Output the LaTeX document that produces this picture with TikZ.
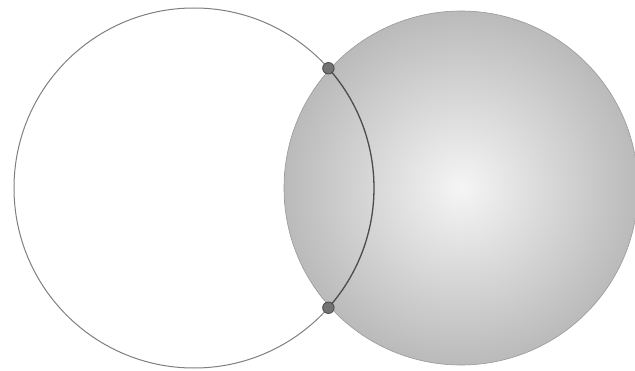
\documentclass[tikz,border=0pt]{standalone}
\definecolor{leftline}{gray}{0.50}
\definecolor{arcline}{gray}{0.30}
\definecolor{rightline}{gray}{0.60}
\definecolor{ballin}{gray}{0.96}
\definecolor{ballout}{gray}{0.73}
\definecolor{dotfill}{gray}{0.45}
\definecolor{dotline}{gray}{0.28}
\tikzset{
  leftcirc/.style={draw=leftline, line width=1pt, fill=white},
  ballcirc/.style={draw=rightline, line width=0.6pt, inner color=ballin, outer color=ballout},
  lensarc/.style={draw=arcline, line width=1.3pt},
  ptdot/.style={circle, fill=dotfill, draw=dotline, line width=0.8pt, minimum size=11.5pt, inner sep=0pt},
}
\begin{document}
\begin{tikzpicture}[x=1pt,y=1pt]
  \fill[white] (0,0) rectangle (635,370);
  \useasboundingbox (0,0) rectangle (635,370);
  \coordinate (L) at (194,182);
  \coordinate (R) at (461,182);
  \draw[leftcirc] (L) circle[radius=180];
  \shade[ballcirc] (R) circle[radius=177];
  \draw[lensarc] ([shift={(41.7:180)}]L) arc[start angle=41.7, end angle=-41.7, radius=180];
  \node[ptdot] (P1) at ([shift={(41.7:180)}]L) {};
  \node[ptdot] (P2) at ([shift={(-41.7:180)}]L) {};
\end{tikzpicture}
\end{document}
